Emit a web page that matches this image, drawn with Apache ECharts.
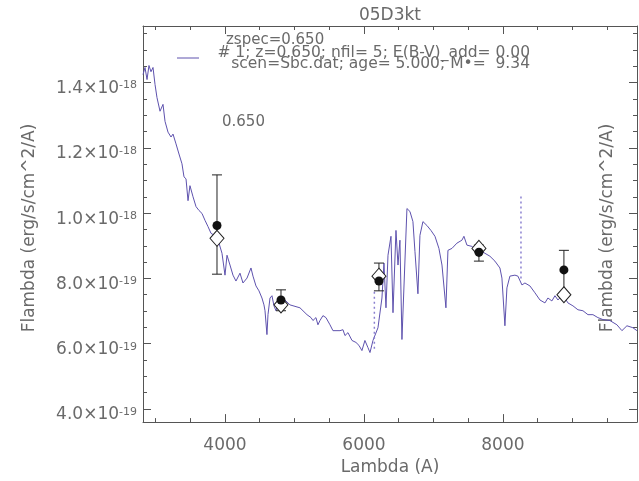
<!DOCTYPE html>
<html><head><meta charset="utf-8">
<script src="https://cdn.jsdelivr.net/npm/echarts@6/dist/echarts.min.js"></script>
<style>html,body{margin:0;padding:0;background:#fff}#c{width:639px;height:481px}</style>
</head><body><div id="c"></div>
<script>
// Spectrum (wavelength in Angstrom, flux in units of 1e-19 erg/s/cm^2/A)
const specLambda = [2820,2849,2878,2906,2935,2964,2993,3021,3065,3108,
3137,3180,3223,3252,3295,3338,3381,3410,3439,3468,
3496,3540,3583,3626,3669,3712,3755,3799,3827,3870,
3914,3957,4000,4029,4072,4115,4158,4216,4259,4317,
4374,4403,4446,4489,4532,4561,4576,4604,4619,4648,
4676,4705,4734,4777,4863,4935,5079,5180,5238,5266,
5309,5338,5367,5410,5453,5511,5554,5655,5698,5727,
5770,5828,5885,5928,5971,6014,6058,6087,6130,6202,
6259,6288,6317,6346,6389,6418,6461,6490,6518,6547,
6619,6662,6705,6734,6777,6806,6849,6907,6964,7022,
7079,7123,7180,7209,7267,7338,7410,7439,7482,7554,
7626,7669,7741,7813,7885,7957,7986,8029,8058,8101,
8173,8216,8274,8317,8389,8461,8533,8605,8648,8705,
8749,8792,8864,8936,9008,9080,9152,9224,9296,9367,
9439,9540,9641,9713,9785,9871,9929];
const specFlux = [14.24,14.46,14.09,14.52,14.33,14.46,13.94,13.54,13.12,13.33,
12.81,12.48,12.33,12.42,12.12,11.81,11.51,11.11,11.05,10.38,
10.84,10.50,10.20,10.08,9.99,9.78,9.59,9.38,9.44,9.29,
9.08,8.77,8.10,8.71,8.41,8.10,7.92,8.16,7.86,8.01,
8.32,8.07,7.77,7.62,7.40,7.19,7.01,6.28,6.89,7.40,
7.47,7.16,7.01,7.34,7.34,7.19,7.10,6.89,6.80,6.71,
6.80,6.58,6.71,6.86,6.80,6.58,6.40,6.40,6.43,6.25,
6.34,6.10,6.04,5.95,5.79,6.10,5.88,5.73,6.10,6.49,
7.40,8.47,7.10,8.71,9.29,6.95,9.47,8.41,9.17,6.13,
10.14,10.05,9.74,8.83,7.53,9.32,9.74,9.62,9.47,9.29,
8.92,8.41,7.10,8.86,8.92,9.08,9.17,9.29,9.02,8.98,
8.83,8.86,8.77,8.68,8.53,8.32,8.01,6.55,7.71,8.07,
8.10,8.07,7.80,7.86,7.77,7.56,7.34,7.25,7.40,7.31,
7.47,7.34,7.50,7.25,7.16,7.04,7.01,6.89,6.89,6.80,
6.74,6.71,6.58,6.40,6.55,6.49,6.40];

// Photometry
const photLambda   = [3885, 4806, 6216, 7655, 8878];
const photFlux     = [9.62, 7.34, 7.92, 8.80, 8.26];
const photErrLow   = [8.13, 7.01, 7.62, 8.53, 7.50];
const photErrHigh  = [11.17, 7.65, 8.47, 9.02, 8.86];
const modelFlux    = [9.23, 7.19, 8.07, 8.92, 7.50];

// Dotted vertical markers
const dotLambda = [6150, 8260];
const dotLow    = [5.85, 8.00];
const dotHigh   = [7.60, 10.60];

// Axes
const xMin = 2820, xMax = 9930, yMin = 3.6, yMax = 15.73;
const xMajor = [4000, 6000, 8000];
const xMinor = [3000,3500,4500,5000,5500,6500,7000,7500,8500,9000,9500];
const yMajor = [4, 6, 8, 10, 12, 14];
const yMinor = [4.5,5,5.5,6.5,7,7.5,8.5,9,9.5,10.5,11,11.5,12.5,13,13.5,14.5,15,15.5];

const AX = '#555', TX = '#6a6a6a', FONT = 'DejaVu Sans', SPEC = '#5e52ae';

function yLabel(v) {
  if (v >= 10) return '{m|' + (v / 10).toFixed(1) + '×10}{s|-18}';
  return '{m|' + v.toFixed(1) + '×10}{s|-19}';
}

function xAx(pos, ticks, len, showLine, showLabel) {
  return {
    type: 'value', position: pos, min: xMin, max: xMax,
    axisLine: {show: showLine, onZero: false, lineStyle: {color: AX, width: 1}},
    axisTick: {show: true, inside: true, length: len, customValues: ticks, lineStyle: {color: AX}},
    axisLabel: showLabel ? {show: true, customValues: ticks, margin: 15, color: TX, fontFamily: FONT, fontSize: 17,
      formatter: function (v) { return String(Math.round(v)); }} : {show: false},
    splitLine: {show: false}
  };
}
function yAx(pos, ticks, len, showLine, showLabel) {
  return {
    type: 'value', position: pos, min: yMin, max: yMax,
    axisLine: {show: showLine, onZero: false, lineStyle: {color: AX, width: 1}},
    axisTick: {show: true, inside: true, length: len, customValues: ticks, lineStyle: {color: AX}},
    axisLabel: showLabel ? {
      show: true, customValues: ticks, margin: 6, formatter: yLabel,
      padding: [12, 0, 0, 0],
      rich: {
        m: {color: TX, fontFamily: FONT, fontSize: 17},
        s: {color: TX, fontFamily: FONT, fontSize: 11, verticalAlign: 'top'}
      }
    } : {show: false},
    splitLine: {show: false}
  };
}

const chart = echarts.init(document.getElementById('c'), null, {renderer: 'canvas'});
const option = {
  animation: false,
  backgroundColor: '#fff',
  grid: {left: 143, right: 2, top: 26, bottom: 56, containLabel: false},
  xAxis: [
    Object.assign(xAx('bottom', xMajor, 8, true, true), {
      name: 'Lambda (A)', nameLocation: 'middle', nameGap: 35,
      nameTextStyle: {color: TX, fontFamily: FONT, fontSize: 17}
    }),
    xAx('bottom', xMinor, 4, false, false),
    xAx('top', xMajor, 8, true, false),
    xAx('top', xMinor, 4, false, false)
  ],
  yAxis: [
    yAx('left', yMajor, 8, true, true),
    yAx('left', yMinor, 4, false, false),
    yAx('right', yMajor, 8, true, false),
    yAx('right', yMinor, 4, false, false)
  ],
  series: [
    {
      type: 'line', xAxisIndex: 0, yAxisIndex: 0, symbol: 'none', z: 2,
      data: specLambda.map((l, i) => [l, specFlux[i]]),
      lineStyle: {color: SPEC, width: 1}
    },
    ...dotLambda.map((l, i) => ({
      type: 'line', xAxisIndex: 0, yAxisIndex: 0, symbol: 'none', z: 2,
      data: [[l, dotLow[i]], [l, dotHigh[i]]],
      lineStyle: {color: '#8a80d0', width: 1.5, type: [2, 3]}
    })),
    {
      type: 'custom', xAxisIndex: 0, yAxisIndex: 0, z: 3,
      data: photLambda.map((l, i) => [l, photErrLow[i], photErrHigh[i]]),
      encode: {x: 0, y: [1, 2]},
      renderItem: function (params, api) {
        const lo = api.coord([api.value(0), api.value(1)]);
        const hi = api.coord([api.value(0), api.value(2)]);
        const w = 5, st = {stroke: '#222', lineWidth: 1};
        return {type: 'group', children: [
          {type: 'line', shape: {x1: lo[0], y1: lo[1], x2: hi[0], y2: hi[1]}, style: st},
          {type: 'line', shape: {x1: lo[0] - w, y1: lo[1], x2: lo[0] + w, y2: lo[1]}, style: st},
          {type: 'line', shape: {x1: hi[0] - w, y1: hi[1], x2: hi[0] + w, y2: hi[1]}, style: st}
        ]};
      }
    },
    {
      type: 'scatter', xAxisIndex: 0, yAxisIndex: 0, z: 4,
      symbol: 'diamond', symbolSize: [14, 16],
      data: photLambda.map((l, i) => [l, modelFlux[i]]),
      itemStyle: {color: '#fff', borderColor: '#222', borderWidth: 1, opacity: 1}
    },
    {
      type: 'scatter', xAxisIndex: 0, yAxisIndex: 0, z: 5,
      symbol: 'circle', symbolSize: 9,
      data: photLambda.map((l, i) => [l, photFlux[i]]),
      itemStyle: {color: '#111', opacity: 1}
    }
  ],
  graphic: [
    {type: 'text', x: 390, y: 16, style: {text: '05D3kt', fill: TX, font: '17px "DejaVu Sans"', align: 'center', verticalAlign: 'middle'}},
    {type: 'text', x: 226, y: 40, style: {text: 'zspec=0.650', fill: TX, font: '15px "DejaVu Sans"', align: 'left', verticalAlign: 'middle'}},
    {type: 'line', shape: {x1: 177, y1: 58, x2: 199, y2: 58}, style: {stroke: SPEC, lineWidth: 1}},
    {type: 'text', x: 530, y: 53, style: {text: '# 1; z=0.650; nfil= 5; E(B-V)_add= 0.00', fill: TX, font: '15.5px "DejaVu Sans"', align: 'right', verticalAlign: 'middle'}},
    {type: 'text', x: 530, y: 64, style: {text: 'scen=Sbc.dat; age= 5.000; M•=  9.34', fill: TX, font: '15.5px "DejaVu Sans"', align: 'right', verticalAlign: 'middle'}},
    {type: 'text', x: 222, y: 122, style: {text: '0.650', fill: TX, font: '15px "DejaVu Sans"', align: 'left', verticalAlign: 'middle'}},
    {type: 'text', x: 30, y: 228, rotation: Math.PI / 2, style: {text: 'Flambda (erg/s/cm^2/A)', fill: TX, font: '17px "DejaVu Sans"', align: 'center', verticalAlign: 'middle'}},
    {type: 'text', x: 608, y: 228, rotation: Math.PI / 2, style: {text: 'Flambda (erg/s/cm^2/A)', fill: TX, font: '17px "DejaVu Sans"', align: 'center', verticalAlign: 'middle'}}
  ]
};
chart.setOption(option);
</script>
</body></html>
